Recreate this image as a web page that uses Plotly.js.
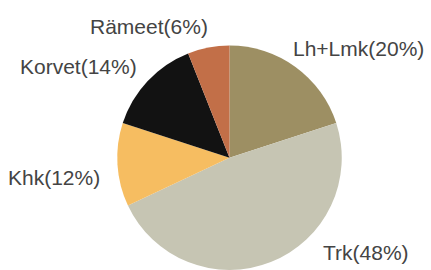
<!DOCTYPE html>
<html>
<head>
<meta charset="utf-8">
<script src="https://cdn.plot.ly/plotly-3.0.1.min.js"></script>
<style>html,body{margin:0;padding:0;background:#fff;}#chart{width:431px;height:270px;}</style>
</head>
<body>
<div id="chart"></div>
<script>
// Data
const categories = ["Lh+Lmk", "Trk", "Khk", "Korvet", "Rämeet"];
const shares = [20, 48, 12, 14, 6];
const labelTexts = ["Lh+Lmk(20%)", "Trk(48%)", "Khk(12%)", "Korvet(14%)", "Rämeet(6%)"];
const colors = ["#9d8f63", "#c6c5b3", "#f6bd61", "#121212", "#c26f48"];

// Label positions (pixels) – layout only
const labelPx = [[358.7, 49], [366, 252.5], [54, 177], [78.3, 66], [148.7, 26.5]];

const W = 431, H = 270;
const annotations = labelTexts.map((t, i) => ({
  text: t,
  x: labelPx[i][0] / W,
  y: 1 - labelPx[i][1] / H,
  xref: "paper", yref: "paper",
  xanchor: "center", yanchor: "middle",
  showarrow: false,
  font: {family: "Liberation Sans, Arial, sans-serif", size: 21, color: "#444444"}
}));

const trace = {
  type: "pie",
  labels: categories,
  values: shares,
  sort: false,
  direction: "clockwise",
  rotation: 0,
  marker: {colors: colors, line: {width: 0}},
  textinfo: "none",
  hoverinfo: "label+percent",
  showlegend: false,
  domain: {x: [117 / W, 342 / W], y: [0, 1 - 45.5 / H]}
};

Plotly.newPlot("chart", [trace], {
  width: W, height: H,
  margin: {l: 0, r: 0, t: 0, b: 0},
  paper_bgcolor: "#ffffff",
  plot_bgcolor: "#ffffff",
  annotations: annotations,
  showlegend: false
}, {displayModeBar: false, staticPlot: true});
</script>
</body>
</html>
